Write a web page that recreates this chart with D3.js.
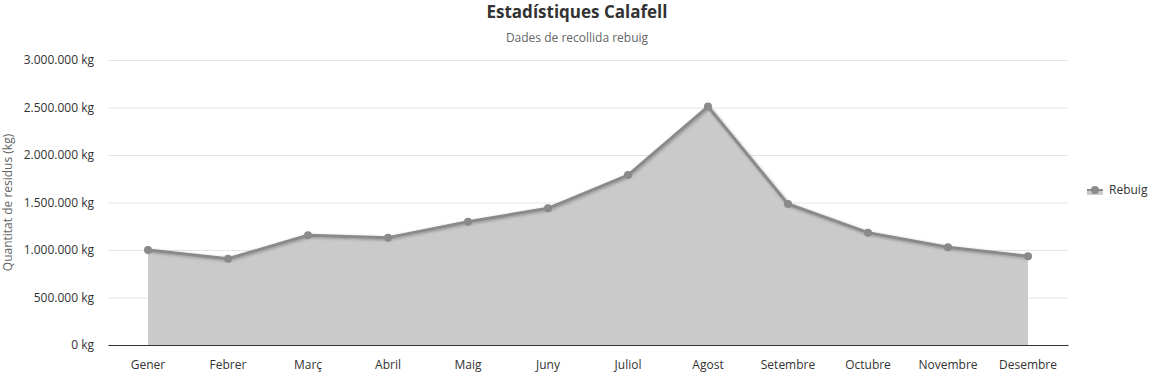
<!DOCTYPE html>
<html>
<head>
<meta charset="utf-8">
<script src="https://d3js.org/d3.v7.min.js"></script>
<style>
body { margin: 0; background: #fff; font-family: 'Open Sans', 'Noto Sans', sans-serif; }
svg { display: block; }
svg text { font-family: 'Open Sans', 'Noto Sans', sans-serif; }
.grid line { stroke: #e6e6e6; }
.tick text { fill: #333; font-size: 12px; }
</style>
</head>
<body>
<svg width="1155" height="375"></svg>
<script>
// data
var months = ["Gener", "Febrer", "Març", "Abril", "Maig", "Juny", "Juliol", "Agost", "Setembre", "Octubre", "Novembre", "Desembre"];
var rebuig = [1000000, 908000, 1155000, 1130000, 1298000, 1439000, 1789000, 2510000, 1484000, 1182000, 1028000, 934000];
var yTicks = [0, 500000, 1000000, 1500000, 2000000, 2500000, 3000000];

var svg = d3.select("svg");
var plotLeft = 108, plotRight = 1068, plotTop = 60, plotBottom = 345;

var x = d3.scaleBand().domain(months).range([plotLeft, plotRight]);
var y = d3.scaleLinear().domain([0, 3000000]).range([plotBottom, plotTop]);

function fmt(v) {
  return String(v).replace(/\B(?=(\d{3})+(?!\d))/g, ".") + " kg";
}

// shadow for the line
var defs = svg.append("defs");
var f = defs.append("filter").attr("id", "shadow").attr("x", "-10%").attr("y", "-10%").attr("width", "120%").attr("height", "130%");
f.append("feDropShadow").attr("dx", 1).attr("dy", 1).attr("stdDeviation", 1.8)
  .attr("flood-color", "#000").attr("flood-opacity", 0.3);

// gridlines
svg.append("g").attr("class", "grid")
  .selectAll("line").data(yTicks.slice(1)).enter().append("line")
  .attr("x1", plotLeft).attr("x2", plotRight)
  .attr("y1", function (d) { return y(d) + 0.5; })
  .attr("y2", function (d) { return y(d) + 0.5; });

// y axis labels
var yAxis = d3.axisLeft(y).tickValues(yTicks).tickFormat(fmt).tickSize(0).tickPadding(14);
svg.append("g").attr("transform", "translate(" + plotLeft + ",0)").call(yAxis)
  .attr("font-family", null)
  .call(function (g) { g.select(".domain").remove(); });

function cx(d, i) { return x(months[i]) + x.bandwidth() / 2; }

// area
var area = d3.area().x(cx).y0(plotBottom).y1(function (d) { return y(d); });
svg.append("path").datum(rebuig).attr("d", area).attr("fill", "#cacaca");

// x axis
var xAxis = d3.axisBottom(x).tickSize(0).tickPadding(15);
svg.append("g").attr("transform", "translate(0," + plotBottom + ")").call(xAxis)
  .attr("font-family", null)
  .call(function (g) { g.select(".domain").attr("stroke", "#333"); });

// line
var line = d3.line().x(cx).y(function (d) { return y(d); });
svg.append("path").datum(rebuig).attr("d", line)
  .attr("fill", "none").attr("stroke", "#8a8a8a").attr("stroke-width", 3)
  .attr("stroke-linejoin", "round").attr("filter", "url(#shadow)");

svg.append("g").selectAll("circle").data(rebuig).enter().append("circle")
  .attr("cx", cx).attr("cy", function (d) { return y(d); })
  .attr("r", 4).attr("fill", "#8a8a8a");

// titles
svg.append("text").attr("x", 577).attr("y", 18).attr("text-anchor", "middle")
  .attr("font-size", 17).attr("font-weight", "bold").attr("fill", "#333")
  .text("Estadístiques Calafell");
svg.append("text").attr("x", 577).attr("y", 42).attr("text-anchor", "middle")
  .attr("font-size", 12).attr("fill", "#666")
  .text("Dades de recollida rebuig");
svg.append("text").attr("transform", "translate(12," + ((plotTop + plotBottom) / 2) + ") rotate(-90)")
  .attr("text-anchor", "middle").attr("font-size", 12).attr("fill", "#666")
  .text("Quantitat de residus (kg)");

// legend
var lg = svg.append("g").attr("transform", "translate(1087,190)");
lg.append("rect").attr("x", 0).attr("y", -1).attr("width", 16).attr("height", 6).attr("fill", "#cacaca");
lg.append("line").attr("x1", 0).attr("x2", 16).attr("y1", 0).attr("y2", 0)
  .attr("stroke", "#8a8a8a").attr("stroke-width", 2);
lg.append("circle").attr("cx", 8).attr("cy", 0).attr("r", 4).attr("fill", "#8a8a8a");
lg.append("text").attr("x", 22).attr("y", 0).attr("dy", "0.35em")
  .attr("font-size", 12).attr("fill", "#333").text("Rebuig");
</script>
</body>
</html>
